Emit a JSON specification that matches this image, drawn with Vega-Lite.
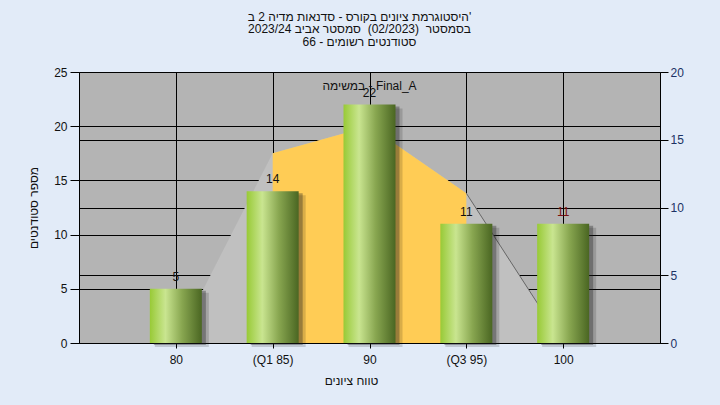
{
  "$schema": "https://vega.github.io/schema/vega-lite/v6.json",
  "width": 581,
  "height": 271,
  "autosize": {"type": "none"},
  "padding": {"left": 79, "top": 72, "right": 60, "bottom": 62},
  "background": "#e2ebf8",
  "title": {
    "text": [
      "היסטוגרמת ציונים בקורס - סדנאות מדיה 2 ב'",
      "בסמסטר\u00A0 (02/2023)\u00A0 סמסטר אביב 2023/24",
      "סטודנטים רשומים - 66"
    ],
    "anchor": "middle",
    "dx": -10,
    "offset": 17,
    "fontSize": 12,
    "font": "Liberation Sans, DejaVu Sans, sans-serif",
    "fontWeight": "normal",
    "color": "#111111",
    "lineHeight": 12.6
  },
  "config": {
    "view": {"fill": "#b4b4b4", "stroke": null},
    "font": "Liberation Sans, DejaVu Sans, sans-serif"
  },
  "datasets": {
    "grades": [
      {"grade": "80", "count": 5, "curve": 0},
      {"grade": "(Q1 85)", "count": 14, "curve": 14},
      {"grade": "90", "count": 22, "curve": 16},
      {"grade": "(Q3 95)", "count": 11, "curve": 11.05},
      {"grade": "100", "count": 11, "curve": 0}
    ]
  },
  "data": {"name": "grades"},
  "encoding": {
    "x": {
      "field": "grade",
      "type": "ordinal",
      "scale": {"type": "point", "padding": 1, "domain": ["80", "(Q1 85)", "90", "(Q3 95)", "100"]},
      "axis": {
        "title": "טווח ציונים",
        "labelAngle": 0,
        "grid": true,
        "gridColor": "#000000",
        "gridOpacity": 1,
        "tickSize": 5,
        "labelPadding": 6,
        "domainColor": "#000000",
        "tickColor": "#000000",
        "labelColor": "#111111",
        "labelFontSize": 12,
        "titleFontSize": 12,
        "titleFontWeight": "normal",
        "titleColor": "#111111",
        "titleX": 272,
        "titleY": 37,
        "titleBaseline": "middle"
      }
    }
  },
  "layer": [
    {
      "encoding": {
        "y": {
          "field": "curve",
          "type": "quantitative",
          "scale": {"domain": [0, 20], "nice": false},
          "axis": {
            "orient": "right",
            "values": [0, 5, 10, 15, 20],
            "grid": true,
            "gridColor": "#000000",
            "gridOpacity": 1,
            "title": null,
            "tickSize": 8,
            "labelPadding": 2,
            "labelColor": "#1c3264",
            "labelFontSize": 12,
            "domainColor": "#000000",
            "tickColor": "#000000"
          }
        }
      },
      "layer": [
        {"mark": {"type": "area", "color": "#c0c0c0", "opacity": 1}},
        {
          "transform": [{"filter": {"field": "grade", "oneOf": ["(Q1 85)", "90", "(Q3 95)"]}}],
          "mark": {"type": "area", "color": "#ffcc55", "opacity": 1}
        },
        {
          "transform": [{"filter": {"field": "grade", "oneOf": ["(Q3 95)", "100"]}}],
          "mark": {"type": "line", "color": "#666666", "strokeWidth": 1}
        }
      ]
    },
    {
      "encoding": {
        "y": {
          "field": "count",
          "type": "quantitative",
          "scale": {"domain": [0, 25], "nice": false},
          "axis": {
            "orient": "left",
            "values": [0, 5, 10, 15, 20, 25],
            "grid": true,
            "gridColor": "#000000",
            "gridOpacity": 1,
            "title": "מספר סטודנטים",
            "titleAngle": -90,
            "titleX": -46,
            "titleY": 135.5,
            "titleBaseline": "middle",
            "titleAlign": "center",
            "titleFontSize": 12,
            "titleFontWeight": "normal",
            "titleColor": "#111111",
            "tickSize": 9,
            "labelPadding": 3,
            "labelColor": "#111111",
            "labelFontSize": 12,
            "domainColor": "#000000",
            "tickColor": "#000000"
          }
        }
      },
      "layer": [
        {"mark": {"type": "bar", "size": 54, "color": "#000000", "opacity": 0.15, "xOffset": 6, "yOffset": 4}},
        {"mark": {"type": "bar", "size": 52, "color": "#222222", "opacity": 0.35, "xOffset": 4, "yOffset": 2}},
        {
          "mark": {
            "type": "bar",
            "size": 52,
            "strokeWidth": 0,
            "fill": {
              "gradient": "linear",
              "x1": 0, "x2": 1, "y1": 0, "y2": 0,
              "stops": [
                {"offset": 0, "color": "#98ca36"},
                {"offset": 0.3, "color": "#c9e590"},
                {"offset": 0.62, "color": "#88a650"},
                {"offset": 1, "color": "#4a6622"}
              ]
            }
          }
        },
        {
          "mark": {"type": "text", "dy": -8, "baseline": "alphabetic", "fontSize": 12},
          "encoding": {
            "text": {"field": "count"},
            "color": {"condition": {"test": "datum.grade === '100'", "value": "#7a1010"}, "value": "#111111"}
          }
        },
        {
          "transform": [{"filter": "datum.grade === '90'"}],
          "mark": {"type": "text", "fontSize": 12, "baseline": "middle", "color": "#111111"},
          "encoding": {
            "y": {"datum": 23.75, "type": "quantitative"},
            "text": {"value": "במשימה - Final_A"}
          }
        }
      ]
    }
  ],
  "resolve": {"scale": {"y": "independent"}}
}
